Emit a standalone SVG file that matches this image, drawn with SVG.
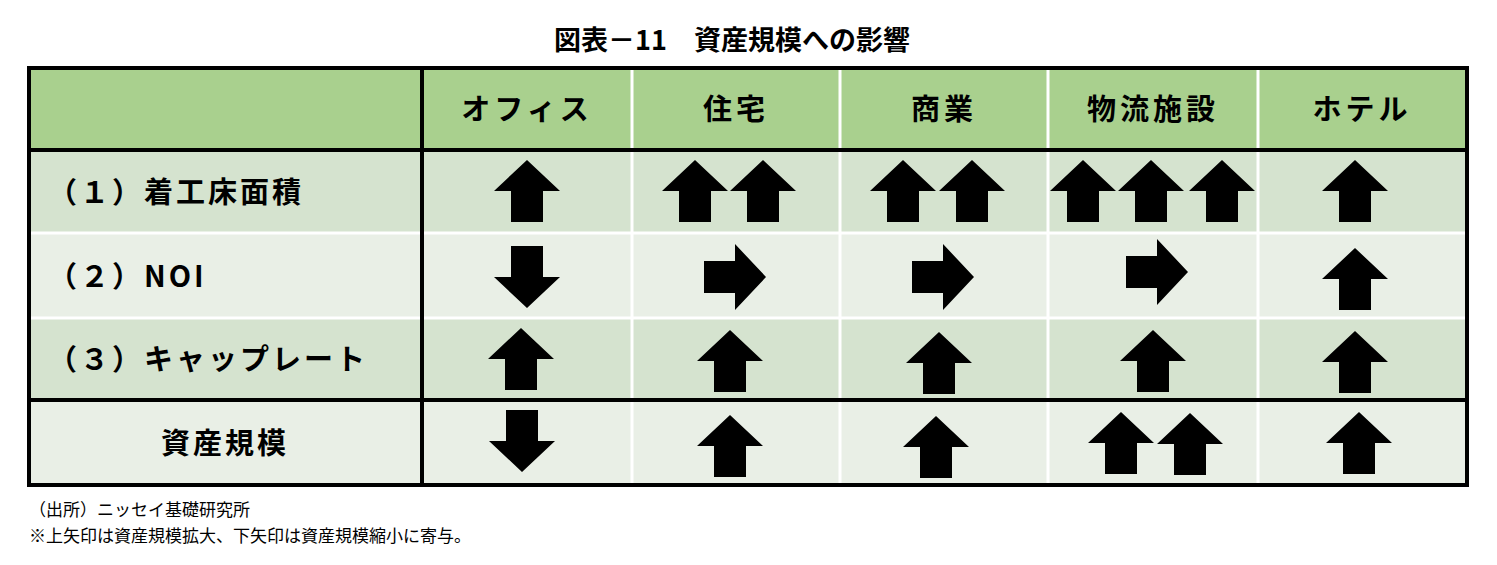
<svg xmlns="http://www.w3.org/2000/svg" xmlns:xlink="http://www.w3.org/1999/xlink" width="1497" height="565" viewBox="0 0 1497 565">
<style>
text{font-family:"Noto Sans CJK JP","Liberation Sans",sans-serif;fill:#000}
.t{font-size:27px;font-weight:bold}
.h{font-size:29px;font-weight:bold;letter-spacing:4px;text-anchor:middle}
.r{font-size:29px;font-weight:bold;letter-spacing:3px}
.f{font-size:17px}
.w{stroke:#fff;stroke-width:3}
.k{stroke:#000;stroke-width:4}
</style>
<defs>
<polygon id="up" points="0,-31 33,0 16,0 16,31 -16,31 -16,0 -33,0" fill="#000"/>
</defs>
<rect width="1497" height="565" fill="#fff"/>
<text class="t" x="732" y="50" text-anchor="middle">図表－11　資産規模への影響</text>
<g id="table">
<rect x="29" y="68" width="1438" height="82" fill="#a9d08e"/>
<rect x="29" y="150" width="1438" height="83" fill="#d5e3cf"/>
<rect x="29" y="233" width="1438" height="85" fill="#e9efe6"/>
<rect x="29" y="318" width="1438" height="82" fill="#d5e3cf"/>
<rect x="29" y="400" width="1438" height="85" fill="#e9efe6"/>
<g class="w">
<line x1="29" y1="233" x2="1467" y2="233"/>
<line x1="29" y1="318" x2="1467" y2="318"/>
<line x1="632" y1="68" x2="632" y2="485"/>
<line x1="840" y1="68" x2="840" y2="485"/>
<line x1="1048" y1="68" x2="1048" y2="485"/>
<line x1="1258" y1="68" x2="1258" y2="485"/>
</g>
<g class="k" fill="none">
<rect x="29" y="68" width="1438" height="417"/>
<line x1="29" y1="150" x2="1467" y2="150"/>
<line x1="29" y1="400" x2="1467" y2="400"/>
<line x1="422" y1="68" x2="422" y2="485"/>
</g>
</g>
<g id="header">
<text class="h" x="527" y="120">オフィス</text>
<text class="h" x="736" y="120">住宅</text>
<text class="h" x="944" y="120">商業</text>
<text class="h" x="1153" y="120">物流施設</text>
<text class="h" x="1362" y="120">ホテル</text>
</g>
<g id="rows">
<text class="r" x="48" y="203">（１）着工床面積</text>
<text class="r" x="48" y="287">（２）NOI</text>
<text class="r" x="48" y="370">（３）キャップレート</text>
<text class="r" x="225" y="454" text-anchor="middle">資産規模</text>
</g>
<g id="arrows">
<use xlink:href="#up" x="527" y="191"/>
<use xlink:href="#up" x="695" y="191"/>
<use xlink:href="#up" x="763" y="191"/>
<use xlink:href="#up" x="903" y="191"/>
<use xlink:href="#up" x="972" y="191"/>
<use xlink:href="#up" x="1083" y="191"/>
<use xlink:href="#up" x="1151" y="191"/>
<use xlink:href="#up" x="1222" y="191"/>
<use xlink:href="#up" x="1355" y="191"/>
<use xlink:href="#up" transform="translate(527,277) rotate(180)"/>
<use xlink:href="#up" transform="translate(735,277) rotate(90)"/>
<use xlink:href="#up" transform="translate(943,277) rotate(90)"/>
<use xlink:href="#up" transform="translate(1157,272) rotate(90)"/>
<use xlink:href="#up" x="1355" y="279"/>
<use xlink:href="#up" x="521" y="359"/>
<use xlink:href="#up" x="730" y="361"/>
<use xlink:href="#up" x="939" y="363"/>
<use xlink:href="#up" x="1153" y="361"/>
<use xlink:href="#up" x="1355" y="362"/>
<use xlink:href="#up" transform="translate(522,441) rotate(180)"/>
<use xlink:href="#up" x="730" y="446"/>
<use xlink:href="#up" x="936" y="447"/>
<use xlink:href="#up" x="1121" y="443"/>
<use xlink:href="#up" x="1190" y="444"/>
<use xlink:href="#up" x="1359" y="443"/>
</g>
<text class="f" x="29" y="516">（出所）ニッセイ基礎研究所</text>
<text class="f" x="29" y="542">※上矢印は資産規模拡大、下矢印は資産規模縮小に寄与。</text>
</svg>
